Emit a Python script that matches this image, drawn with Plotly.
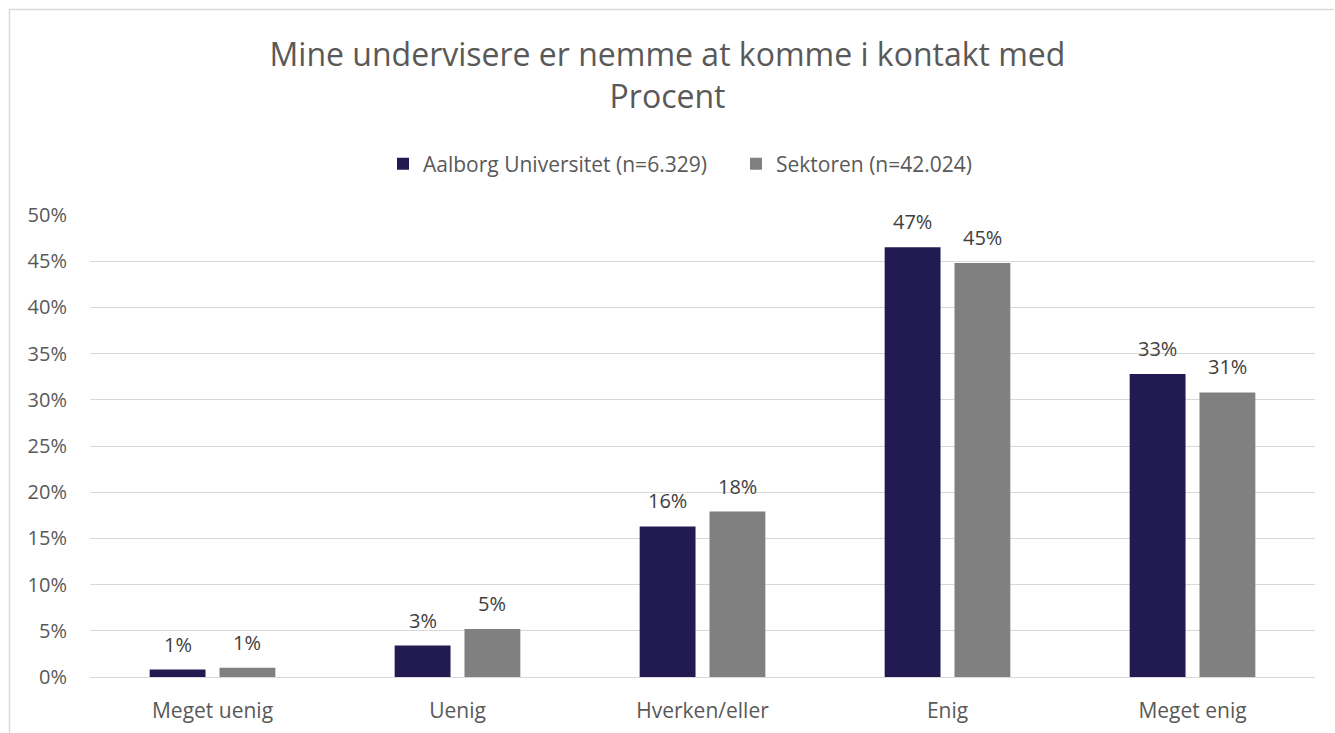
import plotly.graph_objects as go

categories = ["Meget uenig", "Uenig", "Hverken/eller", "Enig", "Meget enig"]
aau = [0.8, 3.4, 16.3, 46.5, 32.8]
sektor = [1.0, 5.2, 17.9, 44.8, 30.8]
aau_labels = ["1%", "3%", "16%", "47%", "33%"]
sektor_labels = ["1%", "5%", "18%", "45%", "31%"]
tick_vals = [0, 5, 10, 15, 20, 25, 30, 35, 40, 45, 50]
tick_text = [f"{v}%" for v in tick_vals]

FONT = "Open Sans"
GRAY = "#595959"
LABEL = "#404040"

W, H = 1335, 733
L, R, T, B = 90, 20, 215, 56
pw, ph = W - L - R, H - T - B
BARGAP = 0.43
GROUPGAP = 0.2

def px(x):
    return (x - L) / pw

def py(y):
    return (H - B - y) / ph

fig = go.Figure()
fig.add_bar(x=categories, y=aau, name="Aalborg Universitet (n=6.329)",
            marker_color="#221b52", marker_line_width=0)
fig.add_bar(x=categories, y=sektor, name="Sektoren (n=42.024)",
            marker_color="#808080", marker_line_width=0)

slot = pw / len(categories) * (1 - BARGAP) / 2
annotations = []
for cat, v, t in zip(categories, aau, aau_labels):
    annotations.append(dict(x=cat, y=v, text=t, showarrow=False, xshift=-slot / 2,
                            yshift=10, yanchor="bottom",
                            font=dict(size=20, color=LABEL, family=FONT)))
for cat, v, t in zip(categories, sektor, sektor_labels):
    annotations.append(dict(x=cat, y=v, text=t, showarrow=False, xshift=slot / 2,
                            yshift=10, yanchor="bottom",
                            font=dict(size=20, color=LABEL, family=FONT)))

fig.update_layout(
    width=W, height=H,
    margin=dict(l=L, r=R, t=T, b=B, autoexpand=False),
    paper_bgcolor="white", plot_bgcolor="white",
    font=dict(family=FONT, color=GRAY, size=20),
    barmode="group", bargap=BARGAP, bargroupgap=GROUPGAP,
    title=dict(text="Mine undervisere er nemme at komme i kontakt med<br>Procent",
               x=0.5, xanchor="center", y=1 - 66 / H, yanchor="top",
               font=dict(size=32, color=GRAY, family=FONT)),
    legend=dict(orientation="h", x=px(383), xanchor="left", y=py(164), yanchor="middle",
                font=dict(size=21, color=GRAY, family=FONT),
                itemwidth=30, traceorder="normal",
                entrywidth=308, entrywidthmode="pixels"),
    xaxis=dict(showgrid=False, showline=False, ticks="", ticklabelstandoff=19,
               automargin=False, tickfont=dict(size=21, color=GRAY)),
    yaxis=dict(range=[0, 50], tickvals=tick_vals, ticktext=tick_text,
               showgrid=True, gridcolor="#d9d9d9", gridwidth=1.3,
               zeroline=True, zerolinecolor="#d9d9d9", zerolinewidth=1.3,
               automargin=False,
               ticks="", ticklabelstandoff=22, tickfont=dict(size=20, color=GRAY)),
    annotations=annotations,
    shapes=[
        dict(type="line", xref="paper", yref="paper", x0=px(9), x1=px(1334), y0=py(9.5), y1=py(9.5),
             line=dict(color="#d9d9d9", width=1.5)),
        dict(type="line", xref="paper", yref="paper", x0=px(9.5), x1=px(9.5), y0=py(9), y1=py(740),
             line=dict(color="#d9d9d9", width=1.5)),
    ],
)

fig.write_html("out.html", config={"displayModeBar": False},
               post_script="document.body.style.margin='0';")
